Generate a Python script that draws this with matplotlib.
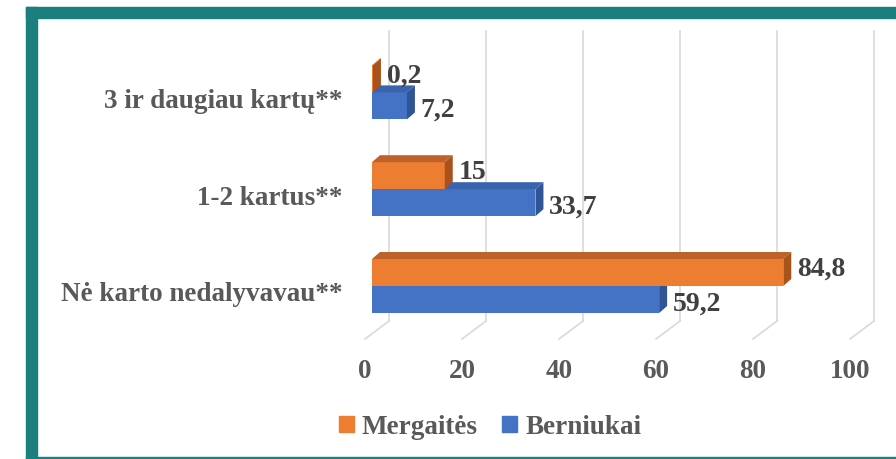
import matplotlib
matplotlib.use('Agg')
import matplotlib.pyplot as plt
from matplotlib.patches import Polygon, Rectangle, Patch

# data (bottom category first)
categories = ['Nė karto nedalyvavau**', '1-2 kartus**', '3 ir daugiau kartų**']
mergaites = [84.8, 15, 0.2]
berniukai = [59.2, 33.7, 7.2]
x_ticks = [0, 20, 40, 60, 80, 100]

# colours
orange, orange_top, orange_side = '#ED7D31', '#BF6229', '#A9531C'
blue, blue_top, blue_side = '#4472C4', '#3A63AE', '#2F5597'
grid_col = '#D9D9D9'
teal = '#1B7F7F'
text_col = '#595959'
value_col = '#404040'
fs = 19.5

plt.rcParams['font.family'] = ['Liberation Serif', 'DejaVu Serif']
plt.rcParams['font.weight'] = 'bold'

W, H = 896, 460
fig = plt.figure(figsize=(W / 100, H / 100), dpi=100)
fig.patch.set_facecolor('white')

# the axes is the front plane of the 3d box (pixel positions)
ax_left, ax_right, ax_top, ax_bottom = 365, 850, 32, 340
zero_row = 292          # pixel row of the first category on the front plane
px_x = (ax_right - ax_left) / 100
px_y = 96.8
ax = fig.add_axes([ax_left / W, 1 - ax_bottom / H,
                   (ax_right - ax_left) / W, (ax_bottom - ax_top) / H])
ylo = -(ax_bottom - zero_row) / px_y
yhi = (zero_row - ax_top) / px_y
ax.set_xlim(0, 100)
ax.set_ylim(ylo, yhi)
ax.patch.set_alpha(0)
for s in ax.spines.values():
    s.set_visible(False)

# depth of the box (back wall) and of the bars, in data units
wall_dx, wall_dy = 24 / px_x, 18 / px_y
bar_offx, bar_offy = 7 / px_x, 5 / px_y
bar_dx, bar_dy = 8 / px_x, 7 / px_y
bh = 27 / px_y

# back wall grid lines and floor diagonals
for t in x_ticks:
    ax.plot([t + wall_dx, t + wall_dx], [ylo + wall_dy, yhi], color=grid_col, lw=1.2, clip_on=False, zorder=0)
    ax.plot([t, t + wall_dx], [ylo, ylo + wall_dy], color=grid_col, lw=1.2, clip_on=False, zorder=0)


def bar3d(values, side, front, top, sidec, dy_text):
    ys = [i + bar_offy + (bh / 2 if side == 'up' else -bh / 2) for i in range(len(values))]
    ax.barh(ys, values, height=bh, left=bar_offx, color=front, zorder=2)
    for y, v in zip(ys, values):
        y0, y1 = y - bh / 2, y + bh / 2
        x0, x1 = bar_offx, bar_offx + v
        ax.add_patch(Polygon([(x0, y1), (x1, y1), (x1 + bar_dx, y1 + bar_dy), (x0 + bar_dx, y1 + bar_dy)],
                             closed=True, facecolor=top, edgecolor='none', zorder=2))
        ax.add_patch(Polygon([(x1, y0), (x1 + bar_dx, y0 + bar_dy), (x1 + bar_dx, y1 + bar_dy), (x1, y1)],
                             closed=True, facecolor=sidec, edgecolor='none', zorder=2))
        lab = ('%g' % v).replace('.', ',')
        ax.annotate(lab, xy=(x1 + bar_dx, y), xytext=(4, dy_text), textcoords='offset points',
                    ha='left', va='center', fontsize=fs + 0.5, color=value_col, zorder=3)


# blue first so the orange bars cover the blue top faces
bar3d(berniukai, 'down', blue, blue_top, blue_side, -2.5)
bar3d(mergaites, 'up', orange, orange_top, orange_side, 3)

ax.set_xticks(x_ticks)
ax.set_xticklabels([str(t) for t in x_ticks])
ax.set_yticks(range(len(categories)))
ax.set_yticklabels(categories)
ax.tick_params(axis='x', length=0, pad=14, labelsize=fs, labelcolor=text_col)
ax.tick_params(axis='y', length=0, pad=16, labelsize=fs, labelcolor=text_col)

# legend
handles = [Patch(color=orange, label='Mergaitės'), Patch(color=blue, label='Berniukai')]
fig.legend(handles=handles, loc='center', bbox_to_anchor=(490 / W, 1 - 428 / H), ncol=2,
           frameon=False, fontsize=fs, labelcolor=text_col, handlelength=0.55, handleheight=0.55,
           handletextpad=0.3, columnspacing=0.9)

# teal frame
fig.add_artist(Rectangle((26 / W, 1 - 19 / H), 1, 11 / H, transform=fig.transFigure, color=teal, zorder=5))
fig.add_artist(Rectangle((26 / W, 0), 11 / W, 1 - 8 / H, transform=fig.transFigure, color=teal, zorder=5))
fig.add_artist(Rectangle((26 / W, 0), 1, 2 / H, transform=fig.transFigure, color=teal, zorder=5))

fig.savefig('out.png', dpi=100, facecolor='white')
